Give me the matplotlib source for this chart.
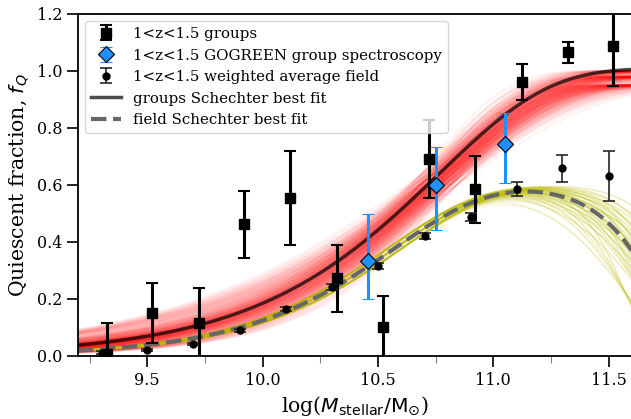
import numpy as np
import matplotlib
matplotlib.use("Agg")
import matplotlib.pyplot as plt

# quiescent fractions, 1<z<1.5
group_mass = [9.324, 9.522, 9.723, 9.921, 10.119, 10.322, 10.523, 10.723, 10.922, 11.123, 11.322, 11.521]
group_fq = [0.005, 0.150, 0.114, 0.461, 0.552, 0.272, 0.100, 0.689, 0.584, 0.961, 1.065, 1.086]
group_err = [0.110, 0.105, 0.125, 0.118, 0.165, 0.117, 0.110, 0.137, 0.117, 0.063, 0.037, 0.141]

spec_mass = [10.455, 10.752, 11.051]
spec_fq = [0.332, 0.599, 0.744]
spec_err_lo = [0.133, 0.158, 0.139]
spec_err_hi = [0.164, 0.134, 0.106]

field_mass = [9.302, 9.500, 9.700, 9.902, 10.103, 10.303, 10.499, 10.702, 10.903, 11.101, 11.300, 11.500]
field_fq = [0.011, 0.020, 0.041, 0.089, 0.164, 0.242, 0.315, 0.420, 0.486, 0.584, 0.657, 0.630]
field_err = [0.004, 0.004, 0.005, 0.006, 0.008, 0.010, 0.010, 0.012, 0.014, 0.024, 0.046, 0.088]

# best-fit parameters: amplitude, slope, turn-on mass, cutoff slope, cutoff mass
group_fit = [1.0074, 0.9118, 10.7633, 3.0, 14.0]
field_fit = [0.6001, 1.1036, 10.5771, 2.7886, 11.7125]

# spread of the posterior draws around the best fits
group_dx0 = [-0.08, -0.05, -0.03, -0.015, 0.0, 0.015, 0.03, 0.05, 0.08]
group_pscale = [0.75, 0.85, 0.92, 0.97, 1.0, 1.03, 1.08, 1.16, 1.3]
group_amp = [1.0, 0.98, 0.95]
field_dxc = [-0.14, -0.07, -0.03, 0.0, 0.03, 0.07, 0.12]
field_qscale = [0.75, 0.9, 1.0, 1.12, 1.35]
field_dx0 = [-0.03, 0.0, 0.03]


def fq_model(x, a, p, x0, q, xc):
    return a * (1 - np.exp(-10 ** (p * (x - x0)))) * np.exp(-10 ** (q * (x - xc)))


plt.rcParams["font.family"] = "DejaVu Serif"
plt.rcParams["mathtext.fontset"] = "dejavusans"

fig = plt.figure(figsize=(6.31, 4.19), dpi=100)
ax = fig.add_axes([0.1236, 0.1511, 0.8775, 0.8162])

m = np.linspace(9.2, 11.6, 300)
a, p, x0, q, xc = group_fit
for dx in group_dx0:
    for ps in group_pscale:
        for amp in group_amp:
            ax.plot(m, fq_model(m, amp, p * ps, x0 + dx, q, xc), color="r", alpha=0.05, lw=1.5, zorder=1)
a, p, x0, q, xc = field_fit
for dc in field_dxc:
    for qs in field_qscale:
        for dx in field_dx0:
            ax.plot(m, fq_model(m, a, p, x0 + dx, q * qs, xc + dc), color="y", alpha=0.1, lw=1, zorder=1.5)

ax.plot(m, fq_model(m, *group_fit), color="k", alpha=0.7, lw=2.5, zorder=2,
        label="groups Schechter best fit")
ax.plot(m, fq_model(m, *field_fit), color="0.4", lw=3, ls="--", zorder=2,
        label="field Schechter best fit")

ax.errorbar(group_mass, group_fq, yerr=group_err, fmt="s", color="k", ms=7.5,
            elinewidth=2.2, capsize=4, capthick=1.5, zorder=3, label="1<z<1.5 groups")
ax.errorbar(spec_mass, spec_fq, yerr=[spec_err_lo, spec_err_hi], fmt="D", mfc="dodgerblue",
            mec="k", mew=0.8, ecolor="dodgerblue", ms=8, elinewidth=2.2, capsize=4, capthick=1.5,
            zorder=3, label="1<z<1.5 GOGREEN group spectroscopy")
ax.errorbar(field_mass, field_fq, yerr=field_err, fmt="o", color="k", ecolor="0.15", ms=5,
            elinewidth=1.2, capsize=4, capthick=1.2, zorder=3, label="1<z<1.5 weighted average field")

ax.set_xlim(9.2, 11.6)
ax.set_ylim(0, 1.2)
ax.set_xticks([9.5, 10.0, 10.5, 11.0, 11.5])
ax.set_xticks(np.arange(9.25, 11.6, 0.25), minor=True)
ax.set_yticks(np.arange(0, 1.21, 0.2))
ax.tick_params(which="major", direction="out", length=8, width=1.2, labelsize=11.5)
ax.tick_params(which="minor", direction="out", length=5, width=0.8, color="0.5")
for s in ax.spines.values():
    s.set_linewidth(1.3)
ax.spines["right"].set_visible(False)
ax.set_xlabel(r"log($M_{\rm stellar}/{\rm M_{\odot}}$)", fontsize=14.7)
ax.set_ylabel(r"Quiescent fraction, $f_Q$", fontsize=14.7)

h, l = ax.get_legend_handles_labels()
order = [2, 3, 4, 0, 1]
ax.legend([h[i] for i in order], [l[i] for i in order], loc="upper left", fontsize=10.8)

fig.savefig("out.png", dpi=100)
